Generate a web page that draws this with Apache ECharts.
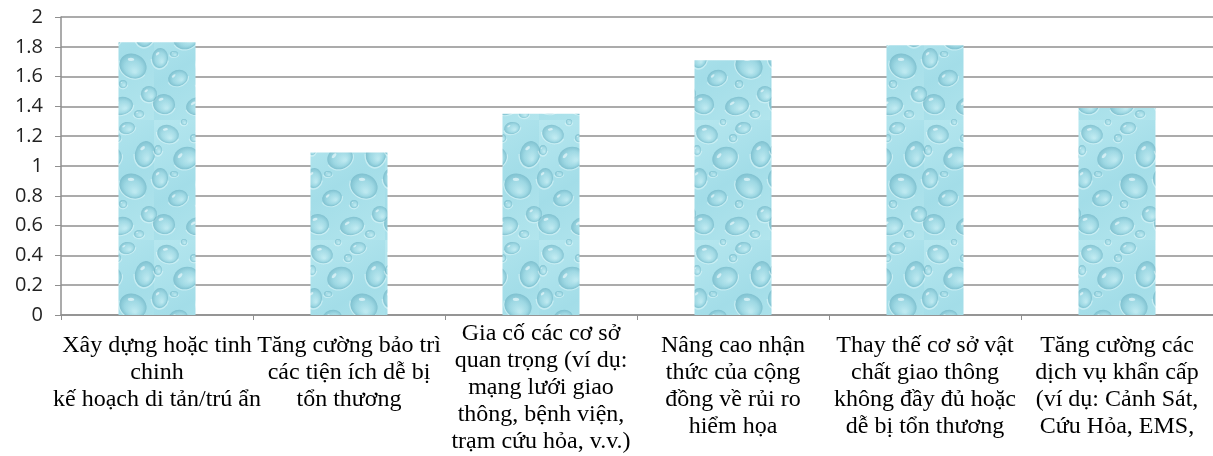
<!DOCTYPE html>
<html>
<head>
<meta charset="utf-8">
<script src="https://cdn.jsdelivr.net/npm/echarts@6/dist/echarts.min.js"></script>
<style>
  html, body { margin: 0; padding: 0; background: #ffffff; }
  #chart { width: 1213px; height: 456px; }
</style>
</head>
<body>
<div id="chart"></div>
<script>
// Mitigation measures and their mean scores
const categories = [
  'Xây dựng hoặc tinh\nchinh\nkế hoạch di tản/trú ẩn',
  'Tăng cường bảo trì\ncác tiện ích dễ bị\ntổn thương',
  'Gia cố các cơ sở\nquan trọng (ví dụ:\nmạng lưới giao\nthông, bệnh viện,\ntrạm cứu hỏa, v.v.)',
  'Nâng cao nhận\nthức của cộng\nđồng về rủi ro\nhiểm họa',
  'Thay thế cơ sở vật\nchất giao thông\nkhông đầy đủ hoặc\ndễ bị tổn thương',
  'Tăng cường các\ndịch vụ khẩn cấp\n(ví dụ: Cảnh Sát,\nCứu Hỏa, EMS,'
];
const scores = [1.83, 1.09, 1.35, 1.71, 1.81, 1.39];
const yTicks = { min: 0, max: 2, step: 0.2 };

// Water-droplet texture used to fill the bars
function dropletTile() {
  const w = 77, h = 120;
  const c = document.createElement('canvas');
  c.width = w; c.height = h;
  const g = c.getContext('2d');
  const bg = g.createLinearGradient(0, 0, w, h);
  bg.addColorStop(0, '#b6e7ef');
  bg.addColorStop(0.5, '#a3dde8');
  bg.addColorStop(1, '#b2e5ed');
  g.fillStyle = bg;
  g.fillRect(0, 0, w, h);
  // [x, y, rx, ry, rotation]
  const drops = [
    [14, 14, 11, 9, 0.3], [50, 8, 8, 6, -0.2], [68, 34, 10, 13, 0.2], [32, 38, 13, 11, -0.4],
    [6, 58, 8, 10, 0.1], [56, 66, 14, 12, 0.5], [24, 78, 10, 8, -0.3], [72, 94, 8, 8, 0],
    [10, 104, 11, 10, 0.2], [44, 106, 12, 9, -0.2], [40, 18, 4, 4, 0], [20, 54, 4, 3, 0],
    [62, 114, 5, 4, 0], [4, 30, 4, 5, 0], [46, 84, 4, 4, 0], [30, 2, 3, 3, 0]
  ];
  const draw = (x, y, rx, ry, rot) => {
    g.save();
    g.translate(x, y);
    g.rotate(rot);
    g.scale(1, ry / rx);
    const rg = g.createRadialGradient(rx * 0.3, rx * 0.35, rx * 0.1, 0, 0, rx);
    rg.addColorStop(0, 'rgba(205,240,245,0.55)');
    rg.addColorStop(0.6, 'rgba(150,210,222,0.5)');
    rg.addColorStop(1, 'rgba(100,172,190,0.6)');
    g.fillStyle = rg;
    g.beginPath(); g.arc(0, 0, rx, 0, Math.PI * 2); g.fill();
    g.strokeStyle = 'rgba(225,248,250,0.55)';
    g.lineWidth = 1.2;
    g.beginPath(); g.arc(0, 0, rx + 0.8, Math.PI * 0.05, Math.PI * 0.95); g.stroke();
    g.fillStyle = 'rgba(245,253,255,0.6)';
    g.beginPath(); g.ellipse(-rx * 0.35, -rx * 0.4, rx * 0.24, rx * 0.13, -0.6, 0, Math.PI * 2); g.fill();
    g.restore();
  };
  drops.forEach(d => {
    for (const ox of [-w, 0, w]) for (const oy of [-h, 0, h]) draw(d[0] + ox, d[1] + oy, d[2], d[3], d[4]);
  });
  return c;
}

const chart = echarts.init(document.getElementById('chart'), null, { renderer: 'canvas' });
const labelFont = 'Liberation Serif, Times New Roman, serif';

chart.setOption({
  animation: false,
  grid: { left: 61, right: 0, top: 17, bottom: 141, containLabel: false },
  xAxis: {
    type: 'category',
    data: categories.map((c, i) => i === 2
      ? { value: c }
      : { value: c, textStyle: { padding: [12, 0, 0, 0] } }),
    axisLine: { show: true, lineStyle: { color: '#8f8f8f', width: 1.5 } },
    axisTick: { show: true, length: 5, alignWithLabel: false, lineStyle: { color: '#8f8f8f' } },
    axisLabel: {
      interval: 0,
      margin: 5,
      color: '#000',
      fontFamily: labelFont,
      fontSize: 24,
      lineHeight: 27,
      align: 'center',
      verticalAlign: 'top'
    }
  },
  yAxis: {
    type: 'value',
    min: yTicks.min,
    max: yTicks.max,
    interval: yTicks.step,
    axisLine: { show: true, lineStyle: { color: '#8f8f8f', width: 1.5 } },
    axisTick: { show: true, length: 6, inside: false, lineStyle: { color: '#8f8f8f' } },
    splitLine: { show: true, lineStyle: { color: '#8f8f8f', width: 1.5 } },
    axisLabel: {
      color: '#222',
      fontFamily: 'Open Sans, Liberation Sans, sans-serif',
      fontSize: 20,
      margin: 18,
      formatter: v => String(Math.round(v * 10) / 10)
    }
  },
  series: [{
    type: 'bar',
    data: scores,
    barWidth: 77,
    itemStyle: { color: { image: dropletTile(), repeat: 'repeat' } }
  }]
});
</script>
</body>
</html>
